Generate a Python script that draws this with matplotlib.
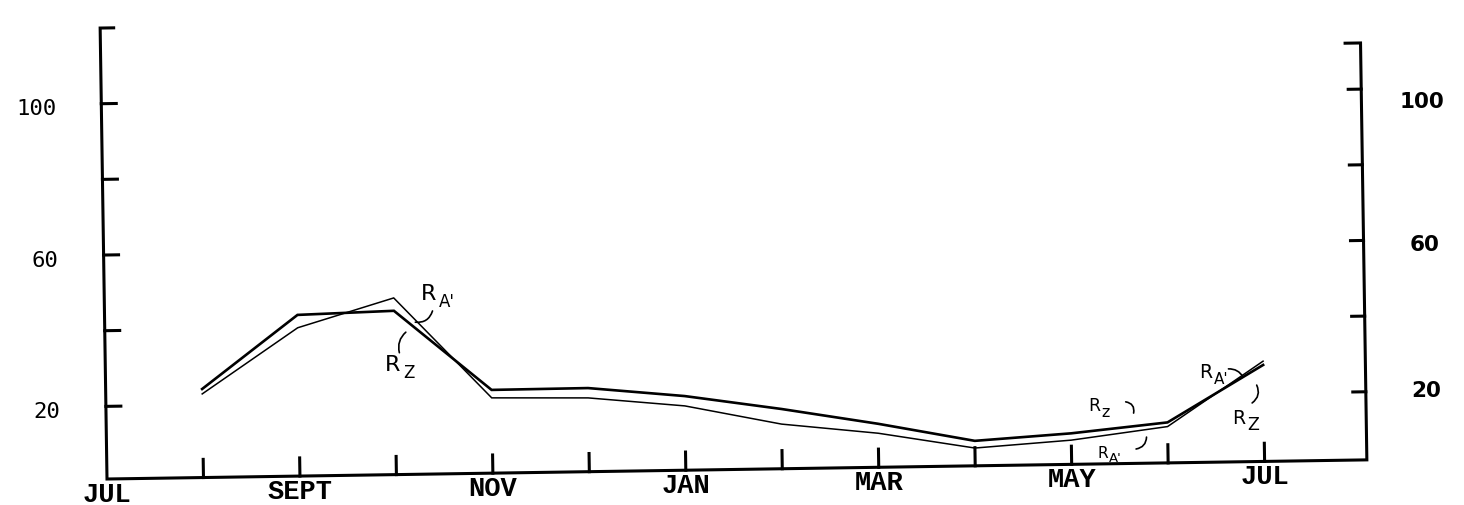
import matplotlib.pyplot as plt
from matplotlib.transforms import Affine2D

# months after JUL (0 = JUL of first year)
obs_pos = [1, 2, 3, 4, 5, 6, 7, 8, 9, 10, 11, 12]
rz = [24.2, 43.4, 44.1, 22.8, 22.9, 20.4, 16.6, 12.3, 7.4, 9.0, 11.5, 26.3]
ra = [22.9, 40.0, 47.5, 20.7, 20.3, 17.8, 12.6, 9.8, 5.5, 7.2, 10.4, 27.3]

month_names = ['JUL', 'SEPT', 'NOV', 'JAN', 'MAR', 'MAY', 'JUL']
month_label_pos = [0, 2, 4, 6, 8, 10, 12]
month_ticks = [1, 2, 3, 4, 5, 6, 7, 8, 9, 10, 11, 12]
y_ticks = [20, 40, 60, 80, 100]
y_labels = [100, 60, 20]
right_label_shift = [4.5, 2.5, 1.0]

X_END = 13.06
Y_BASE = 0.8

fig = plt.figure(figsize=(14.64, 5.06), dpi=100)
ax = fig.add_axes([107 / 1464, 26 / 506, 1260 / 1464, 451 / 506])
ax.set_xlim(0, X_END)
ax.set_ylim(Y_BASE, 120)
ax.axis('off')

# the scanned sheet is tilted a little, so everything is drawn through a rotated transform
px, py = ax.transAxes.transform((0, 0))
rot = ax.transData + Affine2D().rotate_deg_around(px, py, 0.87)
kw = dict(color='black', transform=rot, clip_on=False)

# frame: left axis with top serif, bottom axis, right axis with top serif
ax.plot([0.14, 0, 0, X_END, X_END, X_END - 0.16],
        [120, 120, Y_BASE, Y_BASE, 111, 111],
        lw=2.2, solid_joinstyle='miter', **kw)
for v in y_ticks:
    ax.plot([0, 0.155], [v, v], lw=2.2, **kw)
    ax.plot([X_END - 0.135, X_END], [v - 1.2, v - 1.2], lw=2.2, **kw)
for m in month_ticks:
    ax.plot([m, m], [Y_BASE, Y_BASE + 4.8], lw=2.2, **kw)

# series
ax.plot(obs_pos, rz, lw=1.9, solid_joinstyle='miter', **kw)
ax.plot(obs_pos, ra, lw=1.1, solid_joinstyle='miter', **kw)

# tick labels
for v, s in zip(y_labels, right_label_shift):
    ax.text(-0.47, v - 1, str(v), ha='right', va='center',
            family='DejaVu Sans Mono', fontsize=16, transform=rot)
    ax.text(X_END + 0.63, v - s, str(v), ha='center', va='center',
            family='DejaVu Sans', fontweight='bold', fontsize=15.5, transform=rot)
for m, name in zip(month_label_pos, month_names):
    ax.text(m, Y_BASE - 3.9, name, ha='center', va='center',
            family='Liberation Mono', fontweight='bold', fontsize=19.5, transform=rot)


# hand lettered labels with little leader strokes
def tag(x, y, sub, big=16, small=12):
    ax.text(x, y, 'R', ha='center', va='center', family='DejaVu Sans',
            fontsize=big, transform=rot)
    ax.annotate(sub, xy=(x, y), xycoords=rot, xytext=(big * 0.45, -big * 0.35),
                textcoords='offset points', ha='left', va='center',
                family='DejaVu Sans', fontsize=small)


def leader(x0, y0, x1, y1, rad):
    ax.annotate('', xy=(x1, y1), xycoords=rot, xytext=(x0, y0), textcoords=rot,
                arrowprops=dict(arrowstyle='-', lw=1.2, color='black',
                                connectionstyle='arc3,rad=%s' % rad,
                                shrinkA=0, shrinkB=0))


tag(3.36, 48.6, "A'")
leader(3.40, 43.9, 3.22, 41.0, -0.4)
tag(2.98, 30.0, 'Z')
leader(3.12, 38.4, 3.05, 33.0, 0.3)

tag(10.24, 16.3, 'z', big=12.5, small=11.5)
leader(10.57, 17.1, 10.65, 14.1, -0.5)
tag(10.32, 3.9, "A'", big=11, small=9.5)
leader(10.78, 7.7, 10.67, 4.6, -0.4)

tag(11.40, 24.8, "A'", big=13.5, small=11)
leader(11.64, 25.4, 11.79, 23.2, -0.3)
tag(11.74, 12.6, 'Z', big=13.5, small=12.5)
leader(11.93, 21.0, 11.88, 16.3, -0.4)

fig.savefig('out.png', dpi=100)
